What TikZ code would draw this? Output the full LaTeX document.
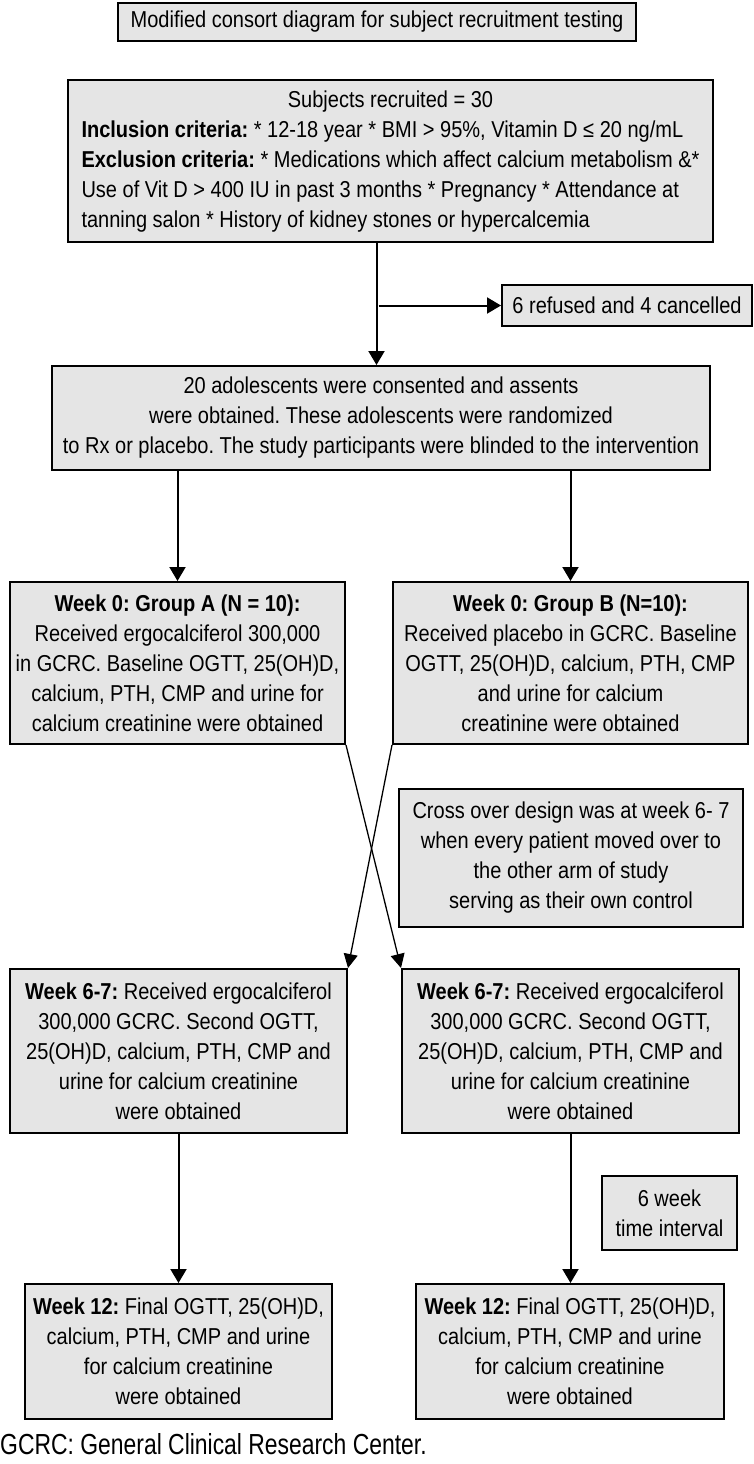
\documentclass[tikz,border=0pt]{standalone}
\usepackage{fontspec}
\setmainfont{Liberation Sans}[FakeStretch=0.87]
\newfontfamily\footfont{Liberation Sans}[FakeStretch=0.79]
\usetikzlibrary{arrows.meta,calc}
\definecolor{boxgray}{RGB}{229,229,229}
\frenchspacing
\begin{document}
\begin{tikzpicture}[x=1pt,y=-1pt,
  box/.style={draw=black, line width=2pt, fill=boxgray, inner sep=0pt,
    align=center, font=\fontsize{23}{30}\selectfont},
  arr/.style={line width=2pt, -{Triangle[length=14pt,width=16pt]}},
  xarr/.style={line width=1.3pt, -{Triangle[length=14pt,width=14pt]}}]
\useasboundingbox (0,0) rectangle (754,1464);
\node[box, minimum width=518pt, minimum height=38pt] (title) at (377,22)
  {Modified consort diagram for subject recruitment testing};
\node[box, minimum width=645pt, minimum height=162pt] (rec) at (390.5,161)
  {\begin{tabular}{@{}l@{}}
   \multicolumn{1}{@{}c@{}}{Subjects recruited = 30}\\
   \textbf{Inclusion criteria:} * 12-18 year * BMI > 95\%, Vitamin D ≤ 20 ng/mL\\
   \textbf{Exclusion criteria:} * Medications which affect calcium metabolism \&*\\
   Use of Vit D > 400 IU in past 3 months * Pregnancy * Attendance at\\
   tanning salon * History of kidney stones or hypercalcemia
   \end{tabular}};
\node[box, minimum width=250pt, minimum height=41pt] (ref) at (627,305.5)
  {6 refused and 4 cancelled};
\node[box, minimum width=658pt, minimum height=104pt] (cons) at (381,418)
  {20 adolescents were consented and assents\\
   were obtained. These adolescents were randomized\\
   to Rx or placebo. The study participants were blinded to the intervention};
\node[box, minimum width=335pt, minimum height=162pt] (A) at (177.5,663)
  {\textbf{Week 0: Group A (N = 10):}\\
   Received ergocalciferol 300,000\\
   in GCRC. Baseline OGTT, 25(OH)D,\\
   calcium, PTH, CMP and urine for\\
   calcium creatinine were obtained};
\node[box, minimum width=355pt, minimum height=162pt] (B) at (570.5,663)
  {\textbf{Week 0: Group B (N=10):}\\
   Received placebo in GCRC. Baseline\\
   OGTT, 25(OH)D, calcium, PTH, CMP\\
   and urine for calcium\\
   creatinine were obtained};
\node[box, minimum width=344pt, minimum height=138pt] (cross) at (571,858)
  {Cross over design was at week 6- 7\\
   when every patient moved over to\\
   the other arm of study\\
   serving as their own control};
\node[box, minimum width=337pt, minimum height=164pt] (L67) at (178.5,1051)
  {\textbf{Week 6-7:} Received ergocalciferol\\
   300,000 GCRC. Second OGTT,\\
   25(OH)D, calcium, PTH, CMP and\\
   urine for calcium creatinine\\
   were obtained};
\node[box, minimum width=337pt, minimum height=164pt] (R67) at (570.5,1051)
  {\textbf{Week 6-7:} Received ergocalciferol\\
   300,000 GCRC. Second OGTT,\\
   25(OH)D, calcium, PTH, CMP and\\
   urine for calcium creatinine\\
   were obtained};
\node[box, minimum width=135pt, minimum height=74pt] (six) at (669.5,1213)
  {6 week\\time interval};
\node[box, minimum width=307pt, minimum height=135pt] (L12) at (178.5,1351.5)
  {\textbf{Week 12:} Final OGTT, 25(OH)D,\\
   calcium, PTH, CMP and urine\\
   for calcium creatinine\\
   were obtained};
\node[box, minimum width=308pt, minimum height=135pt] (R12) at (570,1351.5)
  {\textbf{Week 12:} Final OGTT, 25(OH)D,\\
   calcium, PTH, CMP and urine\\
   for calcium creatinine\\
   were obtained};
\node[anchor=base west, inner sep=0pt, font=\footfont\fontsize{29}{34}\selectfont] (foot) at (0,1454)
  {GCRC: General Clinical Research Center.};
% connectors
\coordinate (c1) at (376.5,0);
\coordinate (br) at (378.5,305.5);
\draw[arr] (rec.south -| c1) -- (cons.north -| c1);
\draw[arr] (br) -- (ref.west);
\draw[arr] (cons.south -| A.north) -- (A.north);
\draw[arr] (cons.south -| B.north) -- (B.north);
\draw[xarr] (A.south east) -- (R67.north west);
\draw[xarr] (B.south west) -- (L67.north east);
\draw[arr] (L67.south) -- (L67.south |- L12.north);
\draw[arr] (R67.south) -- (R67.south |- R12.north);
\end{tikzpicture}
\end{document}
